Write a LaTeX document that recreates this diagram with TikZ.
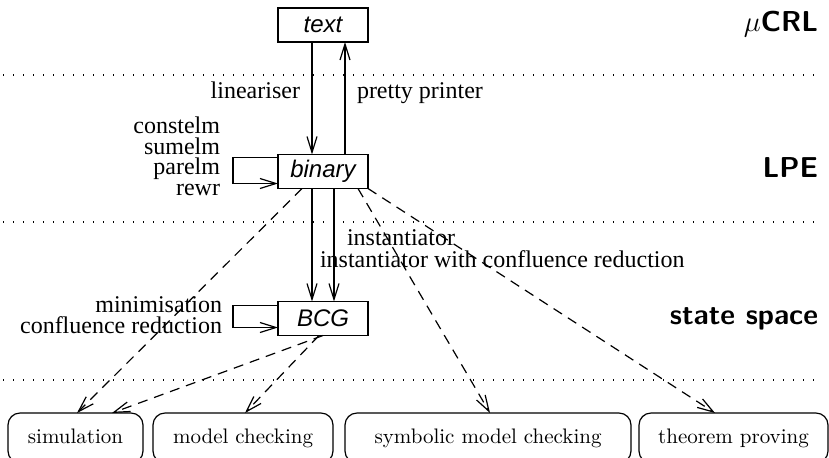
\documentclass[tikz,border=0pt]{standalone}
\usepackage{fontspec}
\newfontfamily\tms{Liberation Serif}
\newfontfamily\hlv{Liberation Sans}
\usetikzlibrary{arrows.meta}
\begin{document}
\begin{tikzpicture}[x=0.5pt,y=-0.5pt,
  every node/.style={inner sep=0pt,outer sep=0pt},
  fmt/.style={draw,line width=0.6pt,minimum width=45pt,minimum height=17pt,font=\hlv\itshape\fontsize{12}{14}\selectfont},
  lbl/.style={font=\tms\fontsize{12}{14}\selectfont},
  lvl/.style={anchor=base east,font=\sffamily\bfseries\fontsize{14.4}{17}\selectfont},
  tool/.style={draw,line width=0.6pt,rounded corners=6pt,anchor=north,minimum height=25pt,text height=7.5pt,text depth=2.5pt,font=\fontsize{10.5}{12}\selectfont},
  arr/.style={line width=0.6pt,-{Straight Barb[length=8pt,width=5pt]}},
  darr/.style={arr,dash pattern=on 5pt off 3.5pt},
  sep/.style={line width=0.6pt,dash pattern=on 0.6pt off 4.4pt}]
\useasboundingbox (0,0) rectangle (829,457);
\clip (0,0) rectangle (829,457);
% separators
\draw[sep] (3,75) -- (822,75);
\draw[sep] (3,222) -- (822,222);
\draw[sep] (3,380) -- (822,380);
% level labels
\node[lvl] (mucrl) at (818,31) {$\mu$CRL};
\node[lvl] (lpe) at (818,177) {LPE};
\node[lvl] (ss) at (818,324) {state space};
% format boxes
\node[fmt] (text) at (323,25) {text};
\node[fmt] (binary) at (323,171.5) {binary};
\node[fmt] (bcg) at (323,318.5) {BCG};
% tool boxes
\node[tool,minimum width=67.5pt] (sim) at (75.5,413) {simulation};
\node[tool,minimum width=90pt] (mc) at (243,413) {model checking};
\node[tool,minimum width=143pt] (smc) at (488,413) {symbolic model checking};
\node[tool,minimum width=94.5pt] (tp) at (733.5,413) {theorem proving};
% labels
\node[lbl,anchor=base east] (lin) at (300,98) {lineariser};
\node[lbl,anchor=base west] (pp) at (357,98) {pretty printer};
\node[lbl,anchor=base east] (l1) at (220,133.5) {constelm};
\node[lbl,anchor=base east] (l2) at (220,154) {sumelm};
\node[lbl,anchor=base east] (l3) at (220,174.5) {parelm};
\node[lbl,anchor=base east] (l4) at (220,195) {rewr};
\node[lbl,anchor=base west] (i1) at (347,245) {instantiator};
\node[lbl,anchor=base west] (i2) at (320,267) {instantiator with confluence reduction};
\node[lbl,anchor=base east] (m1) at (222,312) {minimisation};
\node[lbl,anchor=base east] (m2) at (222,333) {confluence reduction};
% solid arrows
\draw[arr] ([xshift=-5.5pt]text.south) -- ([xshift=-5.5pt]binary.north);
\draw[arr] ([xshift=11pt]binary.north) -- ([xshift=11pt]text.south);
\draw[arr] ([yshift=-1.5pt]binary.north west) -- ++(-45,0) |- ([yshift=2.5pt]binary.south west);
\draw[arr] ([xshift=-5.5pt]binary.south) -- ([xshift=-5.5pt]bcg.north);
\draw[arr] ([xshift=5.5pt]binary.south) -- ([xshift=5.5pt]bcg.north);
\draw[arr] ([yshift=-2pt]bcg.north west) -- ++(-45,0) |- ([yshift=4pt]bcg.south west);
% dashed arrows
\draw[darr] ([xshift=-10.5pt]binary.south) -- ([xshift=0.75pt]sim.north);
\draw[darr] (bcg.south) -- ([xshift=18.25pt]sim.north);
\draw[darr] ([xshift=-2pt]bcg.south) -- ([xshift=1pt]mc.north);
\draw[darr] ([xshift=17.5pt]binary.south) -- ([xshift=1pt]smc.north);
\draw[darr] (binary.south east) -- ([xshift=-9.25pt]tp.north);
\end{tikzpicture}
\end{document}
